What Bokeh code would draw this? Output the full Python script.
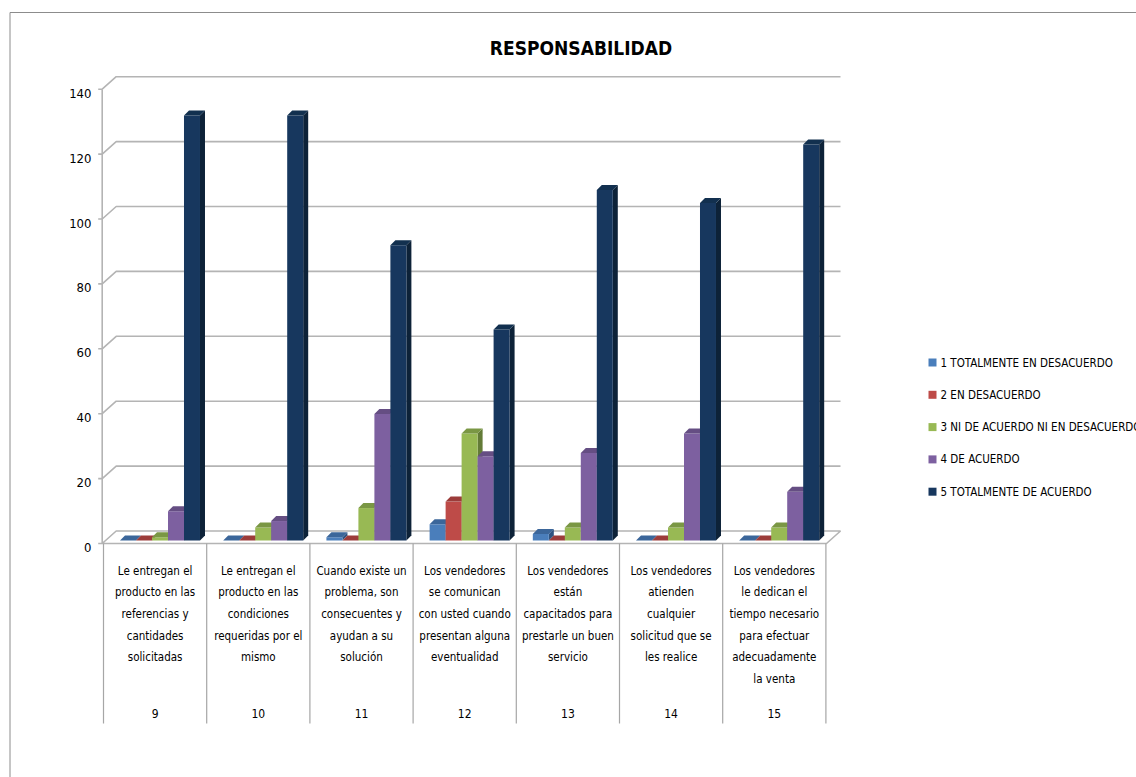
from bokeh.plotting import figure
from bokeh.models import Range1d
from bokeh.core.properties import value
from bokeh.embed import file_html
from bokeh.resources import INLINE

# ---- data -------------------------------------------------------------
question_numbers = ["9", "10", "11", "12", "13", "14", "15"]
question_texts = [
    "Le entregan el\nproducto en las\nreferencias y\ncantidades\nsolicitadas",
    "Le entregan el\nproducto en las\ncondiciones\nrequeridas por el\nmismo",
    "Cuando existe un\nproblema, son\nconsecuentes y\nayudan a su\nsolución",
    "Los vendedores\nse comunican\ncon usted cuando\npresentan alguna\neventualidad",
    "Los vendedores\nestán\ncapacitados para\nprestarle un buen\nservicio",
    "Los vendedores\natienden\ncualquier\nsolicitud que se\nles realice",
    "Los vendedores\nle dedican el\ntiempo necesario\npara efectuar\nadecuadamente\nla venta",
]
series_names = [
    "1 TOTALMENTE EN DESACUERDO",
    "2 EN DESACUERDO",
    "3 NI DE ACUERDO NI EN DESACUERDO",
    "4 DE ACUERDO",
    "5 TOTALMENTE DE ACUERDO",
]
totalmente_en_desacuerdo = [0, 0, 1, 5, 2, 0, 0]
en_desacuerdo = [0, 0, 0, 12, 0, 0, 0]
ni_de_acuerdo = [1, 4, 10, 33, 4, 4, 4]
de_acuerdo = [9, 6, 39, 26, 27, 33, 15]
totalmente_de_acuerdo = [131, 131, 91, 65, 108, 104, 122]
series_values = [totalmente_en_desacuerdo, en_desacuerdo, ni_de_acuerdo,
                 de_acuerdo, totalmente_de_acuerdo]
y_ticks = [0, 20, 40, 60, 80, 100, 120, 140]
chart_title = "RESPONSABILIDAD"

# ---- styling ----------------------------------------------------------
front_colors = ["#4A7EBB", "#BE4B48", "#98B954", "#7D60A0", "#17375E"]
top_colors = ["#3B669A", "#9C3C3A", "#7A9744", "#654E83", "#12304F"]
side_colors = ["#2F5380", "#7F3130", "#637B37", "#52406B", "#0D2238"]
FONT = "DejaVu Sans Condensed, Liberation Sans, sans-serif"
GRID = "#B4B4B4"

W, H = 1136, 777
# pixel geometry of the value/category scales
PX0, CW = 103.0, 103.2      # left edge of first category, px per category
PY0, S = 543.0, 3.245       # pixel row of value 0, px per unit


def X(px):
    return (px - PX0) / CW


def Y(py):
    return (PY0 - py) / S


p = figure(width=W, height=H, output_backend="svg", toolbar_location=None,
           x_range=Range1d(X(0), X(W)), y_range=Range1d(Y(H), Y(0)),
           min_border=0)
p.xaxis.visible = False
p.yaxis.visible = False
p.grid.visible = False
p.outline_line_color = None
p.background_fill_color = "white"
p.border_fill_color = "white"

# chart-area border (left and top)
p.line([X(9.5), X(9.5), X(W + 5)], [Y(H + 5), Y(12), Y(12)],
       line_color="#8C8C8C", line_width=1)

# 3-D walls: side-wall/back-wall gridlines
x_front = X(101.7)
DX = 14 / CW
DY = 12.5 / S
x_back_right = X(840)
x_floor_right = X(826)
grid_xs, grid_ys = [], []
for t in y_ticks[1:]:
    grid_xs.append([x_front, x_front + DX, x_back_right])
    grid_ys.append([t, t + DY, t + DY])
p.multi_line(grid_xs, grid_ys, line_color=GRID, line_width=1.6)

# floor
p.patch([x_front, x_floor_right, x_back_right, x_front + DX],
        [0, 0, DY, DY], fill_color="white", line_color=GRID, line_width=1.6)

# front value axis with ticks
p.line([x_front, x_front], [0, y_ticks[-1]], line_color=GRID, line_width=1.6)
p.segment(x0=[x_front - 4 / CW] * len(y_ticks), y0=y_ticks,
          x1=[x_front] * len(y_ticks), y1=y_ticks,
          line_color=GRID, line_width=1.6)
p.text(x=[X(91)] * len(y_ticks), y=[t - 4 / S for t in y_ticks],
       text=[str(t) for t in y_ticks], text_align="right",
       text_baseline="middle", text_font=value(FONT),
       text_font_size="13px", text_color="#000000")

# 3-D bars
OFF, BW = 0.16, 0.155
BZ = 3 / S
dxb, dyb = 5 / CW, 5 / S
for i in range(len(question_numbers)):
    for j, vals in enumerate(series_values):
        v = vals[i]
        left = i + OFF + j * BW
        right = left + BW
        top = BZ + v
        if v > 0:
            p.patch([right, right + dxb, right + dxb, right],
                    [BZ, BZ + dyb, top + dyb, top],
                    fill_color=side_colors[j], line_color=None)
            p.quad(left=left, right=right, bottom=BZ, top=top,
                   fill_color=front_colors[j], line_color=None)
        p.patch([left, right, right + dxb, left + dxb],
                [top, top, top + dyb, top + dyb],
                fill_color=top_colors[j], line_color=None)

# category table below the floor
n = len(question_numbers)
p.segment(x0=list(range(n + 1)), y0=[0] * (n + 1),
          x1=list(range(n + 1)), y1=[Y(723)] * (n + 1),
          line_color="#A6A6A6", line_width=1.2)
LINE_STEP = 21.7
lx, ly, lt = [], [], []
for i, label in enumerate(question_texts):
    for k, line in enumerate(label.split("\n")):
        lx.append(i + 0.5)
        ly.append(Y(570 + k * LINE_STEP))
        lt.append(line)
p.text(x=lx, y=ly, text=lt, text_align="center", text_baseline="middle",
       text_font=value(FONT), text_font_size="11.5px", text_color="#000000")
p.text(x=[i + 0.5 for i in range(n)], y=[Y(713)] * n, text=question_numbers,
       text_align="center", text_baseline="middle", text_font=value(FONT),
       text_font_size="12px", text_color="#000000")

# title
p.text(x=[X(580.5)], y=[Y(47)], text=[chart_title], text_align="center",
       text_baseline="middle", text_font=value(FONT), text_font_size="19px",
       text_font_style="bold", text_color="#000000")

# legend
leg_y = [Y(362 + k * 32.3) for k in range(len(series_names))]
p.rect(x=[X(932)] * len(series_names), y=leg_y, width=8, height=8,
       width_units="screen", height_units="screen",
       fill_color=front_colors, line_color=None)
p.text(x=[X(940)] * len(series_names), y=leg_y, text=series_names,
       text_align="left", text_baseline="middle", text_font=value(FONT),
       text_font_size="11.5px", text_color="#000000")

open("out.html", "w").write(file_html(p, INLINE))
